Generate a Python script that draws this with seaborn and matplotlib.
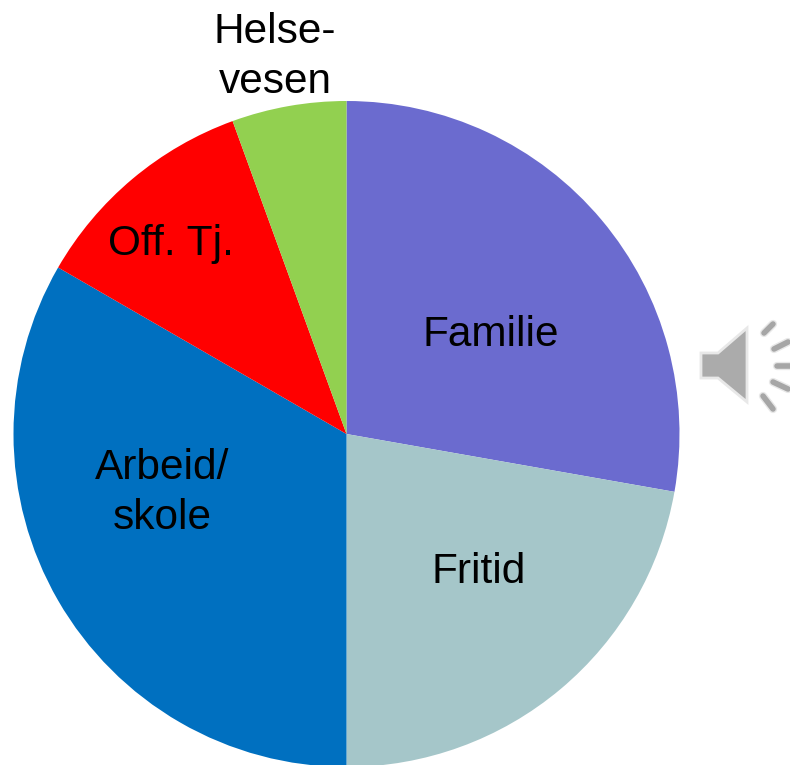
import matplotlib
matplotlib.use('Agg')
import matplotlib.pyplot as plt
from matplotlib.patches import Polygon
import seaborn as sns

# shares of the pie, clockwise from 12 o'clock
categories = ['Familie', 'Fritid', 'Arbeid/\nskole', 'Off. Tj.', 'Helse-\nvesen']
values = [5, 4, 6, 2, 1]
hex_colors = ['#6B6BCF', '#A5C6C9', '#0070C0', '#FF0000', '#92D050']

sns.set_theme(style='white')
plt.rcParams['font.family'] = ['Liberation Sans', 'DejaVu Sans']

W, H = 790, 765
fig = plt.figure(figsize=(W / 100, H / 100), dpi=100)
ax = fig.add_axes([0, 0, 1, 1])

colors = sns.color_palette(hex_colors)
ax.pie(values, colors=colors, startangle=90, counterclock=False,
       center=(346.5, H - 434), radius=333,
       wedgeprops={'edgecolor': 'none', 'linewidth': 0})
ax.set_xlim(0, W)
ax.set_ylim(0, H)
ax.set_aspect('equal')
ax.axis('off')

# label centres in pixels from the top left
label_x = [491, 479, 162, 171, 275]
label_y = [335, 572, 493, 244, 57]
for name, x, y in zip(categories, label_x, label_y):
    ax.text(x, H - y, name, ha='center', va='center', color='black',
            fontsize=30.5, linespacing=1.3)

# speaker icon next to the pie
body = [(701, 353), (718, 353), (747, 328), (747, 402), (718, 378), (701, 378)]
ax.add_patch(Polygon([(x, H - y) for x, y in body], closed=True,
                     facecolor='#ABABAB', edgecolor='#E8E8E8', lw=2))
dash_x = [(764, 773), (774, 788), (777, 790), (773, 788), (763, 773)]
dash_y = [(333, 324), (349, 342), (366, 366), (382, 389), (396, 409)]
for xs, ys in zip(dash_x, dash_y):
    ax.plot(xs, [H - y for y in ys], color='#E8E8E8', lw=6, solid_capstyle='round')
    ax.plot(xs, [H - y for y in ys], color='#A6A6A6', lw=4, solid_capstyle='round')

fig.savefig('out.png', dpi=100)
